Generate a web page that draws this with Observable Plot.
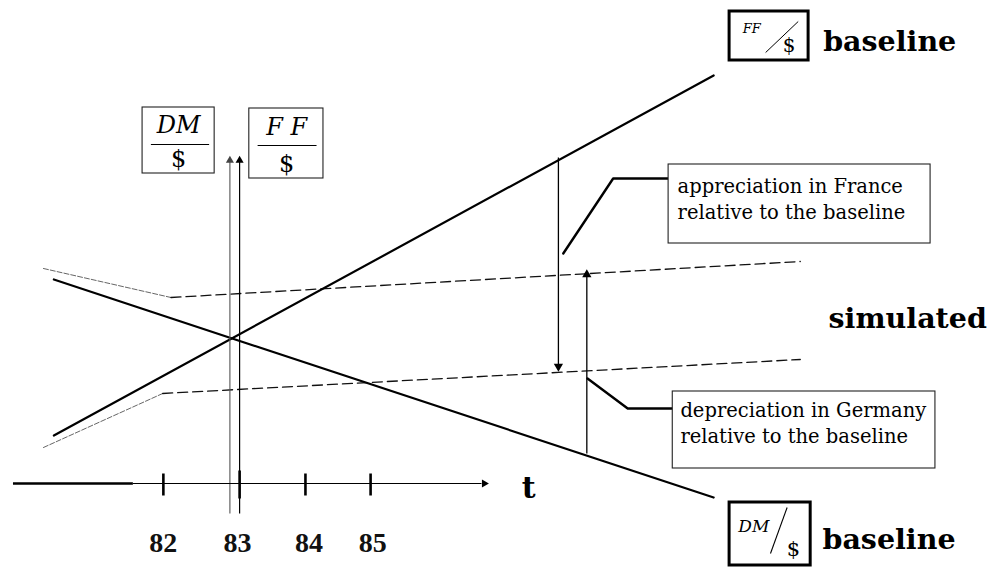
<!DOCTYPE html>
<html>
<head>
<meta charset="utf-8">
<script src="https://cdn.jsdelivr.net/npm/d3@7"></script>
<script src="https://cdn.jsdelivr.net/npm/@observablehq/plot@0.6"></script>
<style>
  html, body { margin: 0; padding: 0; background: #fff; }
  #chart svg { display: block; }
</style>
</head>
<body>
<div id="chart"></div>
<script>
// ---- Data (x in years, y in an exchange-rate index; crossing = 100) ----
const baseT = [80.43, 89.95];
const ffBaseline = [75.75, 165.75];
const dmBaseline = [114.75, 60.25];

const ffSimT = [80.28, 82.0, 91.2];
const ffSimulated = [72.75, 86.25, 94.75];
const dmSimT = [80.28, 82.12, 91.2];
const dmSimulated = [117.5, 110.25, 119.25];

const tickLabels = ["82", "83", "84", "85"];
const tickYears = [82.01, 83.11, 84.06, 85.0];
const tickLabelYears = [82.01, 83.08, 84.11, 85.03];

const axisLevel = 63.75;
const axisStart = 79.84, axisBreak = 81.57, axisEnd = 86.7;

const shockYears = [82.97, 83.11];
const shockFrom = 56.25, shockTo = 145.75;

// ---- helpers ----
const pts = (ts, vs) => ts.map((t, i) => ({t, v: vs[i]}));

const ffBase = pts(baseT, ffBaseline);
const dmBase = pts(baseT, dmBaseline);
const ffSim = pts(ffSimT, ffSimulated);
const dmSim = pts(dmSimT, dmSimulated);

const links = [
  {x1: shockYears[0], y1: shockFrom, x2: shockYears[0], y2: shockTo - 1.5, w: 1.1, s: "#555"},
  {x1: shockYears[1], y1: shockFrom, x2: shockYears[1], y2: shockTo - 1.5, w: 1.2, s: "#000"},
  {x1: 87.71, y1: 145.25, x2: 87.71, y2: 93.5, w: 1.3, s: "#000"},
  {x1: 88.12, y1: 71.25, x2: 88.12, y2: 115.5, w: 1.3, s: "#000"},
  {x1: axisStart, y1: axisLevel, x2: axisBreak, y2: axisLevel, w: 2.4, s: "#000"},
  {x1: axisBreak, y1: axisLevel, x2: axisEnd - 0.1, y2: axisLevel, w: 1.1, s: "#000"}
];

const heads = [
  {x: shockYears[0], y: shockTo - 1.2, r: 0, s: "#444", size: 3.2},
  {x: shockYears[1], y: shockTo - 1.2, r: 0, s: "#000", size: 3.2},
  {x: 87.71, y: 93.0, r: 180, s: "#000", size: 4.2},
  {x: 88.12, y: 116.0, r: 0, s: "#000", size: 4.2},
  {x: axisEnd - 0.06, y: axisLevel, r: 90, s: "#000", size: 3.2}
];

const ticks = tickYears.map((t, i) => ({
  t, y1: i === 1 ? 67 : 66.25, y2: i === 1 ? 60 : 60.75
}));
const tickText = tickLabels.map((l, i) => ({t: tickLabelYears[i], l}));

const leaderApp = [{t: 87.78, v: 121.25}, {t: 88.5, v: 140}, {t: 89.3, v: 140}];
const leaderDep = [{t: 88.13, v: 90}, {t: 88.71, v: 82.5}, {t: 89.36, v: 82.5}];

const thinBoxes = [
  {x1: 89.3, x2: 93.08, y1: 123.75, y2: 143.5},
  {x1: 89.36, x2: 93.15, y1: 67.5, y2: 86.75},
  {x1: 81.71, x2: 82.75, y1: 141.25, y2: 157.75},
  {x1: 83.25, x2: 84.32, y1: 140.0, y2: 157.5}
];
const thickBoxes = [
  {x1: 90.18, x2: 91.32, y1: 169.5, y2: 181.75},
  {x1: 90.18, x2: 91.35, y1: 43.25, y2: 59.0}
];
const fracBars = [
  {x1: 81.83, x2: 82.67, y1: 148.5, y2: 148.5, w: 1},
  {x1: 83.37, x2: 84.22, y1: 148.25, y2: 148.25, w: 1},
  {x1: 90.7, x2: 91.17, y1: 171.5, y2: 179.25, w: 1},
  {x1: 90.77, x2: 91.01, y1: 46.25, y2: 57.75, w: 1.1}
];

const serif = "DejaVu Serif, Liberation Serif, serif";
const noteText = [
  {x: 89.43, y: 137.85, s: "appreciation in France"},
  {x: 89.43, y: 131.35, s: "relative to the baseline"},
  {x: 89.47, y: 81.85, s: "depreciation in Germany"},
  {x: 89.47, y: 75.35, s: "relative to the baseline"}
];
const boldStart = [
  {x: 91.53, y: 174.25, s: "baseline"},
  {x: 91.52, y: 49.75, s: "baseline"}
];
const boldMiddle = [
  {x: 92.75, y: 105, s: "simulated", f: 28.5},
  {x: 87.28, y: 62.5, s: "t", f: 30}
];
const italText = [
  {x: 82.23, y: 153.2, s: "DM", f: 24},
  {x: 83.79, y: 152.7, s: "F F", f: 24},
  {x: 90.5, y: 177.5, s: "FF", f: 13},
  {x: 90.53, y: 53.0, s: "DM", f: 17}
];
const uprightText = [
  {x: 82.23, y: 144.75, s: "$", f: 24},
  {x: 83.79, y: 143.5, s: "$", f: 24},
  {x: 91.04, y: 173.25, s: "$", f: 20},
  {x: 91.1, y: 47.25, s: "$", f: 21}
];

const chart = Plot.plot({
  width: 998,
  height: 572,
  margin: 0,
  x: {domain: [79.66, 94.06], axis: null},
  y: {domain: [41.5, 184.5], axis: null},
  style: {background: "#fff", overflow: "visible"},
  marks: [
    Plot.line(ffSim.slice(0, 2), {x: "t", y: "v", stroke: "#666", strokeWidth: 1, strokeDasharray: "5,2"}),
    Plot.line(ffSim.slice(1), {x: "t", y: "v", stroke: "#111", strokeWidth: 1.3, strokeDasharray: "10,5"}),
    Plot.line(dmSim.slice(0, 2), {x: "t", y: "v", stroke: "#666", strokeWidth: 1, strokeDasharray: "5,2"}),
    Plot.line(dmSim.slice(1), {x: "t", y: "v", stroke: "#111", strokeWidth: 1.3, strokeDasharray: "10,5"}),
    Plot.line(ffBase, {x: "t", y: "v", stroke: "#000", strokeWidth: 2.2}),
    Plot.line(dmBase, {x: "t", y: "v", stroke: "#000", strokeWidth: 2.2}),
    Plot.link(links, {x1: "x1", y1: "y1", x2: "x2", y2: "y2", stroke: "s", strokeWidth: "w"}),
    Plot.dot(heads, {x: "x", y: "y", symbol: "triangle", fill: "s", stroke: "none", r: "size", rotate: "r"}),
    Plot.link(ticks, {x1: "t", x2: "t", y1: "y1", y2: "y2", stroke: "#000", strokeWidth: 2.6}),
    Plot.text(tickText, {x: "t", y: 48.75, text: "l", fontSize: 28, fontWeight: "bold", fontFamily: "Liberation Serif, serif", fill: "#111"}),
    Plot.line(leaderApp, {x: "t", y: "v", stroke: "#000", strokeWidth: 2.4}),
    Plot.line(leaderDep, {x: "t", y: "v", stroke: "#000", strokeWidth: 2.4}),
    Plot.rect(thinBoxes, {x1: "x1", x2: "x2", y1: "y1", y2: "y2", fill: "#fff", stroke: "#222", strokeWidth: 1.1}),
    Plot.rect(thickBoxes, {x1: "x1", x2: "x2", y1: "y1", y2: "y2", fill: "#fff", stroke: "#000", strokeWidth: 3}),
    Plot.link(fracBars, {x1: "x1", x2: "x2", y1: "y1", y2: "y2", stroke: "#000", strokeWidth: "w"}),
    Plot.text(noteText, {x: "x", y: "y", text: "s", textAnchor: "start", fontSize: 19.5, fontFamily: serif, fill: "#000"}),
    Plot.text(boldStart, {x: "x", y: "y", text: "s", textAnchor: "start", fontSize: 28.5, fontWeight: "bold", fontFamily: serif, fill: "#000"}),
    Plot.text(boldMiddle, {x: "x", y: "y", text: "s", textAnchor: "middle", fontSize: "f", fontWeight: "bold", fontFamily: serif, fill: "#000"}),
    Plot.text(italText, {x: "x", y: "y", text: "s", fontSize: "f", fontStyle: "italic", fontFamily: serif, fill: "#000"}),
    Plot.text(uprightText, {x: "x", y: "y", text: "s", fontSize: "f", fontFamily: serif, fill: "#000"})
  ]
});
document.getElementById("chart").appendChild(chart);
</script>
</body>
</html>
